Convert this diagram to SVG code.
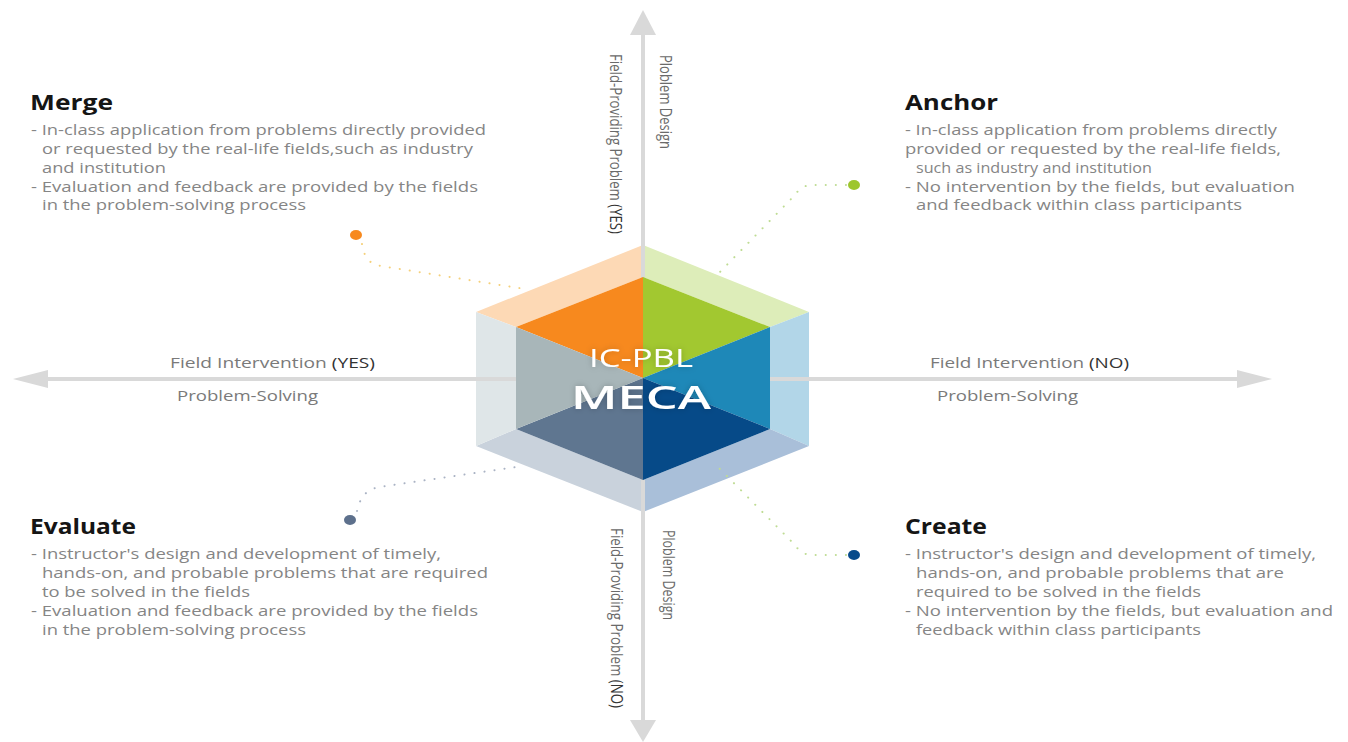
<svg xmlns="http://www.w3.org/2000/svg" width="1348" height="742" viewBox="0 0 1348 742">
<defs>
<style>
.t{font-family:"Open Sans","Liberation Sans",sans-serif;}
.title{font-family:"Open Sans","Liberation Sans",sans-serif;font-size:21px;font-weight:700;fill:#151515;}
.body{font-family:"Open Sans","Liberation Sans",sans-serif;font-size:14px;fill:#858585;}
.ax{font-family:"Open Sans","Liberation Sans",sans-serif;font-size:15px;fill:#7a7a7a;}
.vx{font-family:"Open Sans","Liberation Sans",sans-serif;font-size:16px;fill:#6a6a6a;}
.dk{fill:#333333;}
.axis{stroke:#d9d9d9;stroke-width:4;fill:none;}
.head{fill:#d9d9d9;}
.lead{fill:none;stroke-width:2;stroke-linecap:round;stroke-dasharray:0.1 10;}
</style>
<filter id="glow" x="-20%" y="-40%" width="140%" height="180%">
<feGaussianBlur in="SourceAlpha" stdDeviation="3" result="b"/>
<feFlood flood-color="#000" flood-opacity="0.22"/>
<feComposite in2="b" operator="in" result="s"/>
<feMerge><feMergeNode in="s"/><feMergeNode in="SourceGraphic"/></feMerge>
</filter>
</defs>
<rect width="1348" height="742" fill="#ffffff"/>

<g id="hexagon-bands">
<polygon points="476,312 643,245 643,277 516,327" fill="#fdd9b5"/>
<polygon points="643,245 809,312 770,327 643,277" fill="#ddedb9"/>
<polygon points="809,312 809,446 770,429 770,327" fill="#b2d6e8"/>
<polygon points="809,446 643,512 643,480 770,429" fill="#a9bfd9"/>
<polygon points="643,512 476,446 516,429 643,480" fill="#c9d2dc"/>
<polygon points="476,446 476,312 516,327 516,429" fill="#dfe6e8"/>
</g>

<g id="connectors">
<line class="axis" x1="643" y1="30" x2="643" y2="722"/>
<polygon class="head" points="643,10 656,35 630,35"/>
<polygon class="head" points="643,742 656,720 630,720"/>
<line class="axis" x1="40" y1="379" x2="1245" y2="379"/>
<polygon class="head" points="13,379 48,370 48,388"/>
<polygon class="head" points="1272,379 1237,370 1237,388"/>
<path class="lead" stroke="#f5d07a" d="M362,244 C364,256 368,264 381,266 L525,289"/>
<path class="lead" stroke="#bfdc94" d="M846,185 L810,185 Q801,186 794,196 L718,274"/>
<path class="lead" stroke="#aab3c4" d="M357,511 C360,498 365,490 379,487 L523,466"/>
<path class="lead" stroke="#bfdc94" d="M846,555 L810,555 Q801,554 794,544 L718,467"/>
</g>

<g id="hexagon-core">
<polygon points="643,378 516,327 643,277" fill="#f7891e"/>
<polygon points="643,378 643,277 770,327" fill="#a2c830"/>
<polygon points="643,378 770,327 770,429" fill="#1e88b8"/>
<polygon points="643,378 770,429 643,480" fill="#064a88"/>
<polygon points="643,378 643,480 516,429" fill="#5f7690"/>
<polygon points="643,378 516,429 516,327" fill="#a8b6b9"/>
<g filter="url(#glow)">
<text class="t" x="641" y="367" text-anchor="middle" font-size="25" fill="#ffffff" textLength="104" lengthAdjust="spacingAndGlyphs">IC-PBL</text>
<text class="t" x="641" y="409" text-anchor="middle" font-size="33" font-weight="600" fill="#ffffff" textLength="140" lengthAdjust="spacingAndGlyphs">MECA</text>
</g>
</g>

<g id="dots">
<ellipse cx="356" cy="235" rx="6" ry="5" fill="#f7891e"/>
<ellipse cx="854" cy="185" rx="6" ry="5" fill="#9dc62d"/>
<ellipse cx="350" cy="520" rx="6" ry="5" fill="#5d708c"/>
<ellipse cx="854" cy="555" rx="6" ry="5" fill="#064a8a"/>
</g>

<g id="axis-labels">
<text class="ax" x="170" y="368" textLength="205" lengthAdjust="spacingAndGlyphs">Field Intervention <tspan class="dk">(YES)</tspan></text>
<text class="ax" x="177" y="401" textLength="141" lengthAdjust="spacingAndGlyphs">Problem-Solving</text>
<text class="ax" x="930" y="368" textLength="199" lengthAdjust="spacingAndGlyphs">Field Intervention <tspan class="dk">(NO)</tspan></text>
<text class="ax" x="937" y="401" textLength="141" lengthAdjust="spacingAndGlyphs">Problem-Solving</text>
<text class="vx" transform="translate(660,55) rotate(90)" textLength="94" lengthAdjust="spacingAndGlyphs">Ploblem Design</text>
<text class="vx" transform="translate(610,54) rotate(90)" textLength="180" lengthAdjust="spacingAndGlyphs">Field-Providing Problem <tspan class="dk">(YES)</tspan></text>
<text class="vx" transform="translate(663,530) rotate(90)" textLength="90" lengthAdjust="spacingAndGlyphs">Ploblem Design</text>
<text class="vx" transform="translate(611,528) rotate(90)" textLength="180" lengthAdjust="spacingAndGlyphs">Field-Providing Problem <tspan class="dk">(NO)</tspan></text>
</g>

<g id="merge">
<text class="title" x="30" y="110" textLength="83" lengthAdjust="spacingAndGlyphs">Merge</text>
<text class="body" x="31" y="135" textLength="455" lengthAdjust="spacingAndGlyphs">- In-class application from problems directly provided</text>
<text class="body" x="42" y="154" textLength="431" lengthAdjust="spacingAndGlyphs">or requested by the real-life fields,such as industry</text>
<text class="body" x="42" y="173" textLength="124" lengthAdjust="spacingAndGlyphs">and institution</text>
<text class="body" x="31" y="192" textLength="447" lengthAdjust="spacingAndGlyphs">- Evaluation and feedback are provided by the fields</text>
<text class="body" x="42" y="210" textLength="264" lengthAdjust="spacingAndGlyphs">in the problem-solving process</text>
</g>

<g id="anchor">
<text class="title" x="905" y="110" textLength="93" lengthAdjust="spacingAndGlyphs">Anchor</text>
<text class="body" x="905" y="135" textLength="372" lengthAdjust="spacingAndGlyphs">- In-class application from problems directly</text>
<text class="body" x="905" y="154" textLength="376" lengthAdjust="spacingAndGlyphs">provided or requested by the real-life fields,</text>
<text class="body" x="916" y="173" textLength="236" lengthAdjust="spacingAndGlyphs">such as industry and institution</text>
<text class="body" x="905" y="192" textLength="390" lengthAdjust="spacingAndGlyphs">- No intervention by the fields, but evaluation</text>
<text class="body" x="916" y="210" textLength="326" lengthAdjust="spacingAndGlyphs">and feedback within class participants</text>
</g>

<g id="evaluate">
<text class="title" x="30" y="534" textLength="106" lengthAdjust="spacingAndGlyphs">Evaluate</text>
<text class="body" x="31" y="559" textLength="410" lengthAdjust="spacingAndGlyphs">- Instructor's design and development of timely,</text>
<text class="body" x="42" y="578" textLength="446" lengthAdjust="spacingAndGlyphs">hands-on, and probable problems that are required</text>
<text class="body" x="42" y="597" textLength="208" lengthAdjust="spacingAndGlyphs">to be solved in the fields</text>
<text class="body" x="31" y="616" textLength="447" lengthAdjust="spacingAndGlyphs">- Evaluation and feedback are provided by the fields</text>
<text class="body" x="42" y="635" textLength="264" lengthAdjust="spacingAndGlyphs">in the problem-solving process</text>
</g>

<g id="create">
<text class="title" x="905" y="534" textLength="82" lengthAdjust="spacingAndGlyphs">Create</text>
<text class="body" x="905" y="559" textLength="411" lengthAdjust="spacingAndGlyphs">- Instructor's design and development of timely,</text>
<text class="body" x="916" y="578" textLength="368" lengthAdjust="spacingAndGlyphs">hands-on, and probable problems that are</text>
<text class="body" x="916" y="597" textLength="285" lengthAdjust="spacingAndGlyphs">required to be solved in the fields</text>
<text class="body" x="905" y="616" textLength="428" lengthAdjust="spacingAndGlyphs">- No intervention by the fields, but evaluation and</text>
<text class="body" x="916" y="635" textLength="285" lengthAdjust="spacingAndGlyphs">feedback within class participants</text>
</g>
</svg>
